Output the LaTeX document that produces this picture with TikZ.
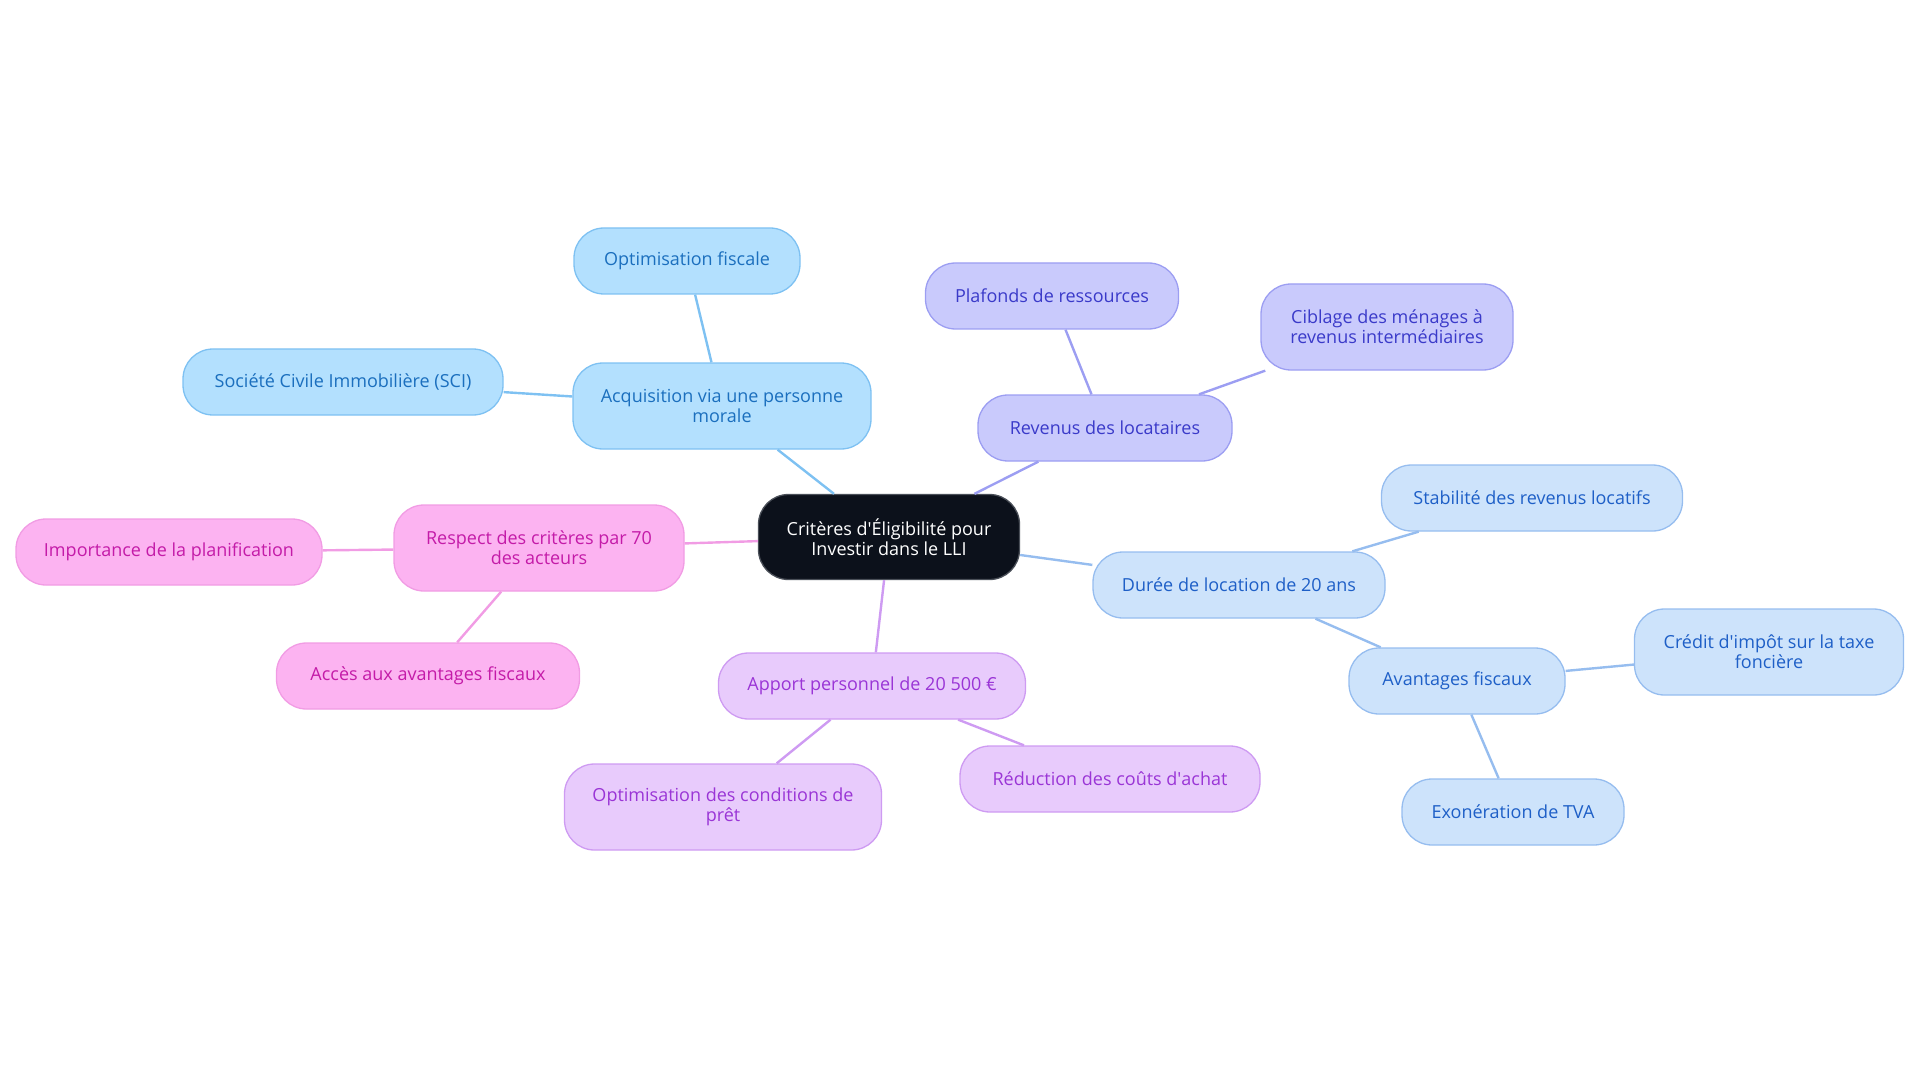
\documentclass[tikz,border=0pt]{standalone}
\usepackage{fontspec}
\usepackage{xcolor}
\usepackage{tikz}
\setmainfont{Open Sans}
\definecolor{rootfill}{HTML}{0C111B}
\definecolor{rootline}{HTML}{4A4F58}
\definecolor{acqfill}{HTML}{B3E0FE}
\definecolor{acqline}{HTML}{7EC1F2}
\definecolor{acqtext}{HTML}{1B6FBE}
\definecolor{revfill}{HTML}{C9CAFC}
\definecolor{revline}{HTML}{9C9EF2}
\definecolor{revtext}{HTML}{3A3AC9}
\definecolor{durfill}{HTML}{CDE3FB}
\definecolor{durline}{HTML}{96BDEF}
\definecolor{durtext}{HTML}{1E5FC7}
\definecolor{appfill}{HTML}{E8CBFC}
\definecolor{appline}{HTML}{CE9BF2}
\definecolor{apptext}{HTML}{9A35D6}
\definecolor{resfill}{HTML}{FCB3F1}
\definecolor{resline}{HTML}{F19CE4}
\definecolor{restext}{HTML}{C41BA8}
\newcommand{\apos}{\textquotesingle}

\begin{document}
\begin{tikzpicture}[x=1pt, y=-1pt,
    idea/.style={rounded corners=30pt, line width=1.3pt, minimum height=66pt, align=center, inner xsep=10pt, font=\fontsize{18}{20}\selectfont},
    tall/.style={minimum height=86pt},
    rootbox/.style={idea, fill=rootfill, draw=rootline, text=white},
    acq/.style={idea, fill=acqfill, draw=acqline, text=acqtext},
    rev/.style={idea, fill=revfill, draw=revline, text=revtext},
    dur/.style={idea, fill=durfill, draw=durline, text=durtext},
    app/.style={idea, fill=appfill, draw=appline, text=apptext},
    res/.style={idea, fill=resfill, draw=resline, text=restext},
    link/.style={line width=2.4pt}
  ]
    \useasboundingbox (0,0) rectangle (1920,1083);
    \node[rootbox, tall, minimum width=261pt, minimum height=85pt] (root) at (889,537) {Critères d\apos Éligibilité pour\\Investir dans le LLI};
    \node[acq, tall, minimum width=298pt] (acquis) at (722,406) {Acquisition via une personne\\morale};
    \node[acq, minimum width=226pt] (optfisc) at (687,261) {Optimisation fiscale};
    \node[acq, minimum width=320pt] (sci) at (343,382) {Société Civile Immobilière (SCI)};
    \node[rev, minimum width=254pt] (revenus) at (1105,428) {Revenus des locataires};
    \node[rev, minimum width=253pt] (plafonds) at (1052,296) {Plafonds de ressources};
    \node[rev, tall, minimum width=252pt] (ciblage) at (1387,327) {Ciblage des ménages à\\revenus intermédiaires};
    \node[dur, minimum width=292pt] (duree) at (1239,585) {Durée de location de 20 ans};
    \node[dur, minimum width=301pt] (stabilite) at (1532,498) {Stabilité des revenus locatifs};
    \node[dur, minimum width=216pt] (avantages) at (1457,681) {Avantages fiscaux};
    \node[dur, tall, minimum width=269pt] (credit) at (1769,652) {Crédit d\apos impôt sur la taxe\\foncière};
    \node[dur, minimum width=222pt] (exoner) at (1513,812) {Exonération de TVA};
    \node[app, minimum width=307pt] (apport) at (872,686) {Apport personnel de 20 500 €};
    \node[app, tall, minimum width=317pt] (optcond) at (723,807) {Optimisation des conditions de\\prêt};
    \node[app, minimum width=300pt] (reduction) at (1110,779) {Réduction des coûts d\apos achat};
    \node[res, tall, minimum width=290pt] (respect) at (539,548) {Respect des critères par 70\\des acteurs};
    \node[res, minimum width=306pt] (importance) at (169,552) {Importance de la planification};
    \node[res, minimum width=303pt] (acces) at (428,676) {Accès aux avantages fiscaux};
    \draw[link, acqline] (root) -- (acquis);
    \draw[link, acqline] (acquis) -- (optfisc);
    \draw[link, acqline] (acquis) -- (sci);
    \draw[link, revline] (root) -- (revenus);
    \draw[link, revline] (revenus) -- (plafonds);
    \draw[link, revline] (revenus) -- (ciblage);
    \draw[link, durline] (root) -- (duree);
    \draw[link, durline] (duree) -- (stabilite);
    \draw[link, durline] (duree) -- (avantages);
    \draw[link, durline] (avantages) -- (credit);
    \draw[link, durline] (avantages) -- (exoner);
    \draw[link, appline] (root) -- (apport);
    \draw[link, appline] (apport) -- (optcond);
    \draw[link, appline] (apport) -- (reduction);
    \draw[link, resline] (root) -- (respect);
    \draw[link, resline] (respect) -- (importance);
    \draw[link, resline] (respect) -- (acces);
  \end{tikzpicture}
\end{document}
